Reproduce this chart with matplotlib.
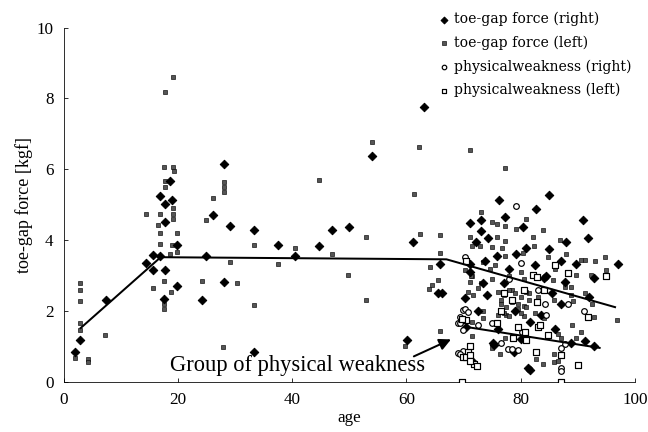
import matplotlib
matplotlib.use("Agg")
import matplotlib.pyplot as plt

plt.rcParams['font.family'] = ['Liberation Serif', 'DejaVu Serif']

# toe-gap force (right) : age, force
right_age = [2.0, 2.9, 7.4, 14.4, 15.6, 15.7, 16.8, 16.8, 17.6, 17.7, 17.7, 17.7, 18.6, 18.9,
             19.8, 19.8, 24.2, 25.0, 26.2, 28.1, 28.1, 29.1, 33.4, 33.4, 37.6, 40.5, 44.7,
             46.9, 50.0, 54.0, 61.2, 63.0, 65.8, 65.5, 66.3, 60.1,
             70.5, 70.2, 71.1, 71.1, 71.2, 71.5, 72.1, 73.1, 73.1, 73.7, 74.1, 74.2, 75.1,
             75.8, 76.1, 76.2, 77.2, 78.9, 79.2, 80.4, 81.0, 81.6, 81.6, 82.5, 82.6, 84.1,
             84.5, 84.9, 84.9, 87.0, 87.0, 87.7, 87.9, 88.8, 89.7, 90.9, 91.7, 91.3, 92.0,
             92.8, 92.9, 97.0, 79.0, 83.5, 77.0, 85.5, 78.0, 72.5, 80.0, 86.0, 73.4, 75.4,
             81.3]
right_force = [0.85, 1.18, 2.31, 3.37, 3.58, 3.15, 3.56, 5.25, 2.33, 3.15, 4.50, 5.03, 5.67, 5.13,
               3.86, 2.71, 2.31, 3.55, 4.70, 6.16, 2.83, 4.39, 4.30, 0.85, 3.86, 3.55, 3.83,
               4.28, 4.37, 6.39, 3.95, 7.75, 3.34, 2.50, 2.50, 1.18,
               1.55, 2.36, 3.34, 3.10, 4.49, 0.60, 3.94, 4.56, 4.26, 3.40, 2.45, 4.05, 1.10,
               3.56, 1.50, 5.13, 4.66, 0.85, 3.60, 4.36, 3.79, 1.70, 0.34, 3.30, 4.87, 2.93,
               3.00, 5.27, 3.74, 3.42, 2.20, 2.83, 3.95, 1.10, 3.34, 4.56, 4.05, 1.15, 2.40,
               1.00, 2.93, 3.34, 2.00, 1.90, 2.80, 2.50, 3.20, 2.00, 1.20, 1.50, 2.78, 1.04,
               0.39]

# toe-gap force (left)
left_age = [19.2, 17.7, 17.6, 19.2, 19.3, 17.7, 17.7, 28.1, 28.1, 28.1, 26.1, 14.4, 24.9, 16.8,
            19.2, 19.2, 19.2, 16.6, 16.8, 19.8, 16.8, 19.0, 33.4, 18.6, 19.8, 29.1, 17.6, 15.6,
            24.2, 30.3, 18.8, 17.6, 17.6, 33.4, 2.9, 2.9, 2.9, 2.9, 2.9, 7.3, 2.0, 4.3, 4.3,
            27.9,
            54.0, 62.2, 61.3, 44.7, 40.5, 37.6, 46.9, 49.8, 52.9, 53.0, 62.3, 65.8, 65.8, 64.1,
            65.5, 64.4, 64.0, 65.8, 59.7,
            71.1, 77.2, 73.1, 74.9, 75.8, 77.2, 79.2, 83.9, 71.1, 75.8, 77.2, 82.1, 86.8, 71.4,
            72.9, 74.9, 76.7, 82.4, 80.4, 84.8, 77.2, 94.8, 90.5, 91.2, 73.4, 74.6, 71.4, 95.0,
            92.3, 89.7, 87.7, 85.6, 91.3, 92.5, 92.9, 96.9, 88.8, 88.8, 89.2, 85.8, 86.5, 87.1,
            89.7, 85.8, 85.8, 82.7, 83.9, 76.3, 77.2, 74.9, 71.4, 73.4, 73.4, 71.4, 70.8, 71.7,
            72.5, 73.0, 70.2, 71.3, 71.1, 75.0, 78.5, 80.5, 81.5, 83.0, 79.5, 76.5, 77.5, 80.5,
            82.5, 84.0, 78.0, 80.0, 86.0, 88.0, 75.5, 81.0, 86.5, 89.0, 90.5, 93.0,
            76.0, 77.0, 78.0, 79.0, 80.0, 81.0, 76.5, 77.5, 78.5, 79.5, 80.5, 81.5, 76.0, 77.0,
            78.0, 79.0, 80.0, 81.0]
left_force = [8.62, 8.18, 6.08, 6.06, 5.95, 5.67, 5.50, 5.64, 5.50, 5.35, 5.19, 4.73, 4.56, 4.73,
              4.90, 4.75, 4.60, 4.42, 4.19, 4.19, 3.90, 3.86, 3.86, 3.62, 3.68, 3.39, 2.85, 2.64,
              2.85, 2.80, 2.53, 2.05, 2.20, 2.17, 2.78, 2.60, 2.27, 1.65, 1.46, 1.32, 0.67, 0.65,
              0.55, 0.98,
              6.77, 6.63, 5.29, 5.71, 3.77, 3.34, 3.60, 3.03, 2.31, 4.08, 4.17, 4.14, 3.64, 3.25,
              2.87, 2.73, 2.62, 1.45, 1.00,
              6.54, 6.04, 4.80, 4.52, 4.46, 4.40, 4.33, 4.28, 4.08, 4.10, 3.99, 4.08, 4.00, 3.83,
              3.83, 3.80, 3.78, 3.83, 3.63, 3.53, 3.56, 3.53, 3.44, 3.45, 3.39, 3.20, 3.00, 3.15,
              3.01, 3.01, 2.69, 2.87, 2.50, 2.20, 1.84, 1.75, 2.68, 2.45, 2.27, 2.30, 1.35, 1.25,
              1.25, 0.80, 0.55, 0.65, 0.50, 0.80, 1.25, 0.95, 1.30, 2.00, 1.80, 1.70, 2.55, 2.45,
              2.65, 2.80, 3.15, 3.00, 2.83, 2.90, 2.60, 2.90, 2.50, 2.40, 2.20, 2.30, 1.90, 1.85,
              1.95, 1.80, 3.00, 3.10, 3.20, 3.60, 3.30, 4.60, 0.60, 1.60, 1.40, 3.40,
              2.55, 2.45, 2.60, 2.50, 2.40, 2.55, 2.20, 2.10, 2.25, 2.05, 2.15, 2.30, 1.90, 1.95,
              1.85, 2.00, 1.95, 2.10]

# physical weakness (right)
weak_r_age = [79.1, 70.2, 80.1, 69.9, 69.3, 69.0, 69.9, 69.0, 70.2, 70.8, 69.4, 72.5, 74.9, 80.3,
              88.3, 84.2, 84.5, 87.7, 87.1, 87.0, 87.0, 79.5, 77.8, 78.4, 76.6, 69.9, 69.4, 83.0,
              78.0, 91.0]
weak_r_force = [4.96, 3.53, 3.36, 2.03, 1.84, 1.65, 1.46, 0.81, 2.07, 1.96, 1.65, 1.60, 1.65, 1.40,
                2.20, 2.20, 1.90, 1.08, 0.95, 0.40, 0.30, 0.90, 0.92, 0.92, 1.10, 0.87, 0.80, 2.60,
                2.90, 2.00]

# physical weakness (left)
weak_l_age = [69.7, 87.0, 69.9, 70.7, 70.5, 71.9, 70.5, 69.7, 71.1, 71.1, 71.1, 72.3, 75.8, 79.6,
              80.8, 78.6, 81.0, 83.0, 83.3, 84.8, 87.0, 90.0, 82.7, 88.3, 82.1, 82.9, 82.9, 91.7,
              95.0, 70.5, 77.0, 78.5, 80.5, 76.5, 84.0, 86.0]
weak_l_force = [0.00, 0.00, 0.71, 0.85, 0.71, 0.51, 1.75, 1.78, 1.00, 0.76, 0.59, 0.45, 1.65, 1.55,
                1.40, 1.25, 1.18, 1.55, 1.60, 1.32, 0.75, 0.48, 0.85, 3.06, 3.01, 2.96, 2.25, 1.84,
                3.00, 3.40, 2.50, 2.30, 2.60, 2.00, 2.60, 3.30]

# fitted trend lines
trend_age = [3, 17, 67, 96.5]
trend_force = [1.52, 3.52, 3.46, 2.11]
weak_trend_age = [70.5, 93.8]
weak_trend_force = [1.55, 0.96]

fig = plt.figure(figsize=(9, 6), dpi=72)
ax = fig.add_axes([0.098, 0.116, 0.882, 0.82])

ax.scatter(left_age, left_force, marker='s', s=22, facecolor='#555555',
           edgecolor='black', linewidths=0.6, label='toe-gap force (left)', zorder=3)
ax.scatter(right_age, right_force, marker='D', s=36, color='black',
           label='toe-gap force (right)', zorder=4)
ax.scatter(weak_r_age, weak_r_force, marker='o', s=32, facecolor='white',
           edgecolor='black', linewidths=1.2, label='physicalweakness (right)', zorder=5)
ax.scatter(weak_l_age, weak_l_force, marker='s', s=32, facecolor='white',
           edgecolor='black', linewidths=1.2, label='physicalweakness (left)', zorder=5)

ax.plot(trend_age, trend_force, color='black', lw=2, zorder=6)
ax.plot(weak_trend_age, weak_trend_force, color='black', lw=2, zorder=6)

ax.annotate('', xy=(67.8, 1.2), xytext=(61.3, 0.72),
            arrowprops=dict(arrowstyle='-|>', color='black', lw=2, mutation_scale=24,
                            shrinkA=0, shrinkB=0), zorder=7)
ax.text(18.6, 0.45, 'Group of physical weakness', fontsize=22.5, va='center', ha='left')

ax.set_xlim(0, 100)
ax.set_ylim(0, 10)
ax.set_xticks([0, 20, 40, 60, 80, 100])
ax.set_yticks([0, 2, 4, 6, 8, 10])
ax.tick_params(direction='in', labelsize=17, length=4, width=0.8)
ax.tick_params(axis='x', pad=10)
ax.tick_params(axis='y', pad=10)
ax.spines['top'].set_visible(False)
ax.spines['right'].set_visible(False)

ax.set_xlabel('age', fontsize=17, labelpad=2)
ax.set_ylabel('toe-gap force [kgf]', fontsize=18, labelpad=4)

handles, labels = ax.get_legend_handles_labels()
order = [1, 0, 2, 3]
ax.legend([handles[i] for i in order], [labels[i] for i in order],
          loc='upper right', bbox_to_anchor=(1.015, 1.08), frameon=False,
          prop={'family': 'DejaVu Serif', 'size': 14}, handlelength=0.6,
          handletextpad=0.4, labelspacing=0.66, markerscale=0.8)

fig.savefig('out.png', dpi=72)
